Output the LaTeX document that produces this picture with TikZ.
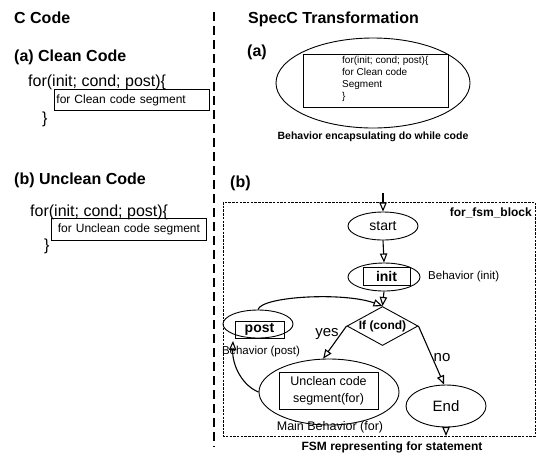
\documentclass[tikz,border=0pt]{standalone}
\usepackage{fontspec}
\setmainfont{Liberation Sans}
\usetikzlibrary{shapes.geometric, arrows, positioning}

\tikzset{
  heading/.style={font=\fontsize{16}{19}\selectfont\bfseries, inner sep=0pt, anchor=base west},
  codetext/.style={font=\fontsize{16}{19}\selectfont, inner sep=0pt, anchor=base west},
  segment/.style={rectangle, draw, line width=0.9pt, font=\fontsize{12}{14}\selectfont, minimum height=21pt, inner ysep=0pt, anchor=north west},
  fsmstate/.style={ellipse, draw, line width=0.9pt, inner sep=0pt},
  behbox/.style={rectangle, draw, line width=1pt, inner sep=0pt},
  lbl/.style={inner sep=0pt, font=\fontsize{11.5}{14}\selectfont},
  caption/.style={inner sep=0pt, font=\fontsize{12}{14}\selectfont\bfseries},
  flow/.style={-open triangle 45, line width=1.1pt},
  divider/.style={line width=1.2pt, dash pattern=on 9pt off 5pt},
  fsmline/.style={line width=0.9pt, dash pattern=on 2.5pt off 1.2pt}
}

\begin{document}
\begin{tikzpicture}[x=1pt, y=-1pt]
\useasboundingbox (0,0) rectangle (540,456);

% C code column
\node[heading] (ccode) at (14,23) {C Code};
\node[heading] (cleanhd) at (14,61) {(a) Clean Code};
\node[codetext] (cleanfor) at (28,86) {for(init; cond; post)\{};
\node[segment, text width=151pt, inner xsep=2pt, align=left] (cleanseg) at (54,89) {for Clean code segment};
\node[codetext] (cleanend) at (42,123) {\}};

\node[heading] (uncleanhd) at (14,184) {(b) Unclean Code};
\node[codetext] (uncleanfor) at (30,216) {for(init; cond; post)\{};
\node[segment, text width=147pt, inner xsep=4pt, minimum height=22pt, align=center] (uncleanseg) at (51,218) {for Unclean code segment};
\node[codetext] (uncleanend) at (44,250) {\}};

% divider between the columns
\coordinate (divtop) at (214,12);
\coordinate (divbot) at (214,447);
\draw[divider] (divtop) -- (divbot);

% SpecC column, (a)
\node[heading] (spechd) at (248,23) {SpecC Transformation};
\node[heading] (speca) at (247,56) {(a)};
\node[fsmstate, minimum width=194pt, minimum height=90pt] (cleanbeh) at (373,83) {};
\node[behbox, minimum width=145pt, minimum height=53pt] (cleanbox) at (375.5,80.5) {};
\node[inner sep=0pt, anchor=north west, align=left, font=\fontsize{10}{12}\selectfont] (cleantxt) at (342,56.5) {for(init; cond; post)\{\\for Clean code\\Segment\\\}};
\node[caption, font=\fontsize{10.5}{12}\selectfont\bfseries] (cleancap) at (373,137) {Behavior encapsulating do while code};

% SpecC column, (b)
\node[heading] (specb) at (230,187) {(b)};
\coordinate (fsmtl) at (223,202);
\coordinate (fsmbr) at (535,436);
\draw[fsmline] (fsmtl) rectangle (fsmbr);
\node[caption, anchor=east] (fsmname) at (532,213) {for\_fsm\_block};

\node[fsmstate, minimum width=70pt, minimum height=28pt, font=\fontsize{14}{16}\selectfont] (start) at (383,226) {start};
\node[fsmstate, minimum width=72pt, minimum height=28pt] (init) at (384,277) {};
\node[behbox, minimum width=47pt, minimum height=18pt, font=\fontsize{14}{16}\selectfont\bfseries] (initbox) at (386.5,276) {init};
\node[lbl, anchor=west] (initlbl) at (428,277) {Behavior (init)};

\node[diamond, draw, line width=0.9pt, aspect=1.8, inner sep=0pt, minimum width=71pt, minimum height=39pt, font=\fontsize{12}{14}\selectfont\bfseries] (cond) at (382.5,326) {If (cond)};

\node[fsmstate, minimum width=70pt, minimum height=28pt] (post) at (258,324) {};
\node[behbox, minimum width=49pt, minimum height=17pt, font=\fontsize{14}{16}\selectfont\bfseries] (postbox) at (259.5,329.5) {post};
\node[lbl] (postlbl) at (261,352) {Behavior (post)};
\coordinate (postin) at (233,341);

\node[fsmstate, minimum width=140pt, minimum height=66pt] (main) at (329,392) {};
\node[behbox, minimum width=99pt, minimum height=37pt, align=center, font=\fontsize{12.5}{17}\selectfont] (mainbox) at (328.5,390.5) {Unclean code\\segment(for)};
\node[lbl, font=\fontsize{12.5}{14}\selectfont] (mainlbl) at (330,427) {Main Behavior (for)};

\node[fsmstate, minimum width=80pt, minimum height=42pt, font=\fontsize{15}{17}\selectfont] (end) at (446,406) {End};

\node[lbl, font=\fontsize{15}{17}\selectfont] (yes) at (327,334) {yes};
\node[lbl, font=\fontsize{15}{17}\selectfont] (no) at (442,358) {no};
\node[caption] (fsmcap) at (392,447) {FSM representing for statement};

% transitions
\coordinate (entry) at (383,193);
\draw[flow] (entry) -- (start.north);
\draw[flow] (start.south) -- (init.north);
\draw[flow] (init.south) -- (cond.north);
\draw[flow] (cond.west) -- (main.100);
\draw[flow] (cond.east) -- (end.95);
\draw[flow] (post.north) .. controls (262,296) and (345,292) .. (cond.north);
\draw[flow] (main.west) .. controls (243,386) and (232,366) .. (postin);
\draw[flow] (end.south) -- (end.south |- fsmbr);

\end{tikzpicture}
\end{document}
